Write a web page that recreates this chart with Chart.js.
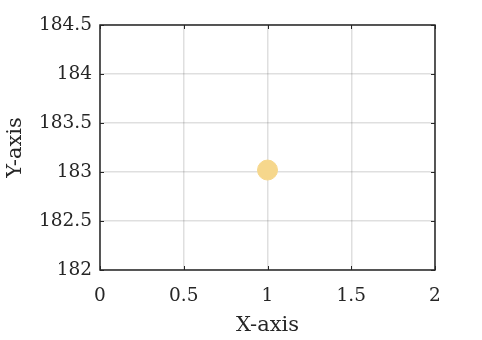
<!DOCTYPE html>
<html><head><meta charset="utf-8">
<script src="https://cdn.jsdelivr.net/npm/chart.js@4"></script>
<style>html,body{margin:0;padding:0;background:#fff}#wrap{width:482px;height:340px}</style>
</head><body><div id="wrap"><canvas id="c" width="482" height="340"></canvas></div>
<script>
const xValues = [1];
const yValues = [183.02];
const xTicks = [0, 0.5, 1, 1.5, 2];
const yTicks = [182, 182.5, 183, 183.5, 184, 184.5];
const xLabel = 'X-axis';
const yLabel = 'Y-axis';

const FONT = 'DejaVu Serif';
const AX = '#262626';

const boxPlugin = {
  id: 'box',
  afterDraw(chart) {
    const {ctx, chartArea: a, scales} = chart;
    ctx.save();
    ctx.strokeStyle = AX;
    ctx.lineWidth = 1.5;
    ctx.strokeRect(a.left, a.top, a.right - a.left, a.bottom - a.top);
    ctx.lineWidth = 1;
    ctx.beginPath();
    const L = 4;
    xTicks.forEach(v => {
      const x = Math.round(scales.x.getPixelForValue(v)) + 0.5;
      ctx.moveTo(x, a.bottom); ctx.lineTo(x, a.bottom - L);
      ctx.moveTo(x, a.top); ctx.lineTo(x, a.top + L);
    });
    yTicks.forEach(v => {
      const y = Math.round(scales.y.getPixelForValue(v)) + 0.5;
      ctx.moveTo(a.left, y); ctx.lineTo(a.left + L, y);
      ctx.moveTo(a.right, y); ctx.lineTo(a.right - L, y);
    });
    ctx.stroke();
    ctx.restore();
  }
};

new Chart(document.getElementById('c'), {
  type: 'scatter',
  data: {
    datasets: [{
      data: xValues.map((x, i) => ({x: x, y: yValues[i]})),
      backgroundColor: 'rgb(246,215,140)',
      borderColor: 'rgb(246,215,140)',
      pointRadius: 10,
      pointHoverRadius: 10
    }]
  },
  options: {
    responsive: false,
    animation: false,
    events: [],
    layout: {padding: {left: 0, right: 47, top: 25, bottom: 0}},
    plugins: {legend: {display: false}, tooltip: {enabled: false}},
    scales: {
      x: {
        type: 'linear', min: 0, max: 2,
        afterBuildTicks(s) { s.ticks = xTicks.map(v => ({value: v})); },
        afterFit(s) { s.height = 70; },
        grid: {color: 'rgba(38,38,38,0.15)', lineWidth: 1.5, drawTicks: false},
        border: {display: false},
        ticks: {color: AX, font: {family: FONT, size: 18.5}, padding: 15, maxRotation: 0,
                callback: v => String(v)},
        title: {display: true, text: xLabel, color: AX, font: {family: FONT, size: 21}, padding: {top: 0, bottom: 2}}
      },
      y: {
        type: 'linear', min: 182, max: 184.5,
        afterBuildTicks(s) { s.ticks = yTicks.map(v => ({value: v})); },
        afterFit(s) { s.width = 100; },
        grid: {color: 'rgba(38,38,38,0.15)', lineWidth: 1.5, drawTicks: false},
        border: {display: false},
        ticks: {color: AX, font: {family: FONT, size: 18.5}, padding: 8,
                callback: v => String(v)},
        title: {display: true, text: yLabel, color: AX, font: {family: FONT, size: 21}, padding: {top: 3, bottom: 0}}
      }
    }
  },
  plugins: [boxPlugin]
});
</script>
</body></html>
